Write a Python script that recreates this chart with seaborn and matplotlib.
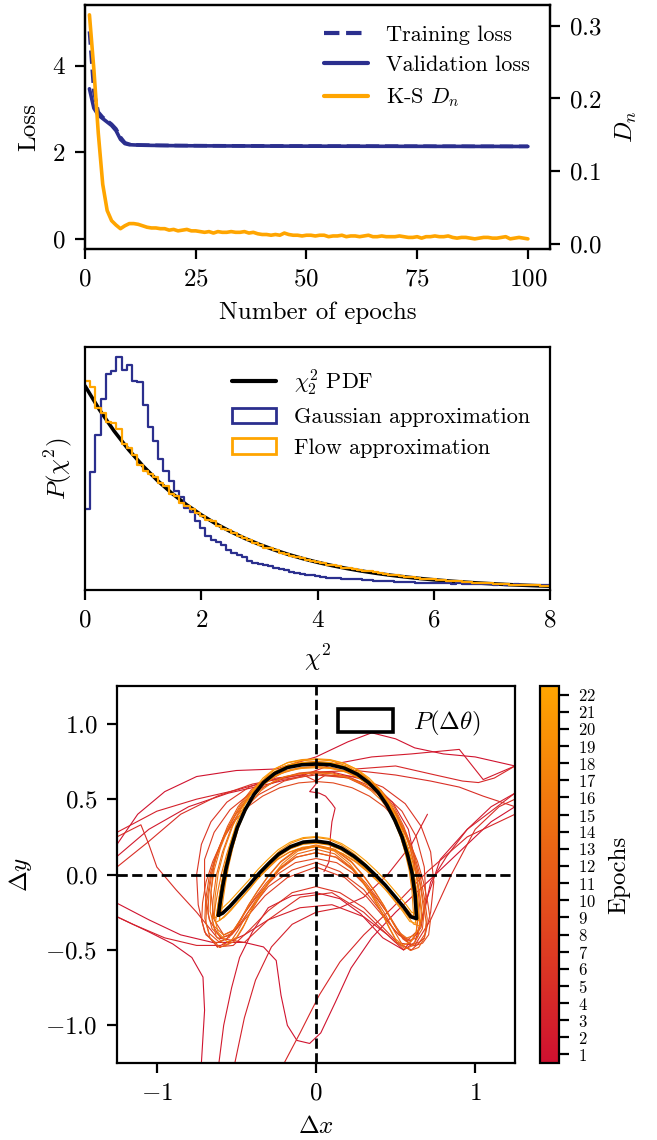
import numpy as np
import pandas as pd
import matplotlib
matplotlib.use("Agg")
import matplotlib.pyplot as plt
import seaborn as sns
from matplotlib.colors import LinearSegmentedColormap, Normalize
from matplotlib.cm import ScalarMappable
from matplotlib.lines import Line2D
from matplotlib.patches import Patch

# ---------------- data: panel 1 (training history) ----------------
EPOCHS = list(range(1, 101))
TRAIN_LOSS = [4.80, 3.40, 2.93, 2.81, 2.73, 2.65, 2.54, 2.35, 2.22, 2.185,
              2.174, 2.170, 2.167, 2.165, 2.163, 2.161, 2.160, 2.159, 2.158, 2.157,
              2.156, 2.155, 2.155, 2.154, 2.153, 2.153, 2.152, 2.152, 2.151, 2.151,
              2.150, 2.150, 2.150, 2.149, 2.149, 2.148, 2.148, 2.148, 2.147, 2.147,
              2.147, 2.146, 2.146, 2.146, 2.146, 2.145, 2.145, 2.145, 2.145, 2.144,
              2.144, 2.144, 2.144, 2.144, 2.143, 2.143, 2.143, 2.143, 2.143, 2.142,
              2.142, 2.142, 2.142, 2.142, 2.142, 2.141, 2.141, 2.141, 2.141, 2.141,
              2.141, 2.140, 2.140, 2.140, 2.140, 2.140, 2.140, 2.140, 2.139, 2.139,
              2.139, 2.139, 2.139, 2.139, 2.139, 2.139, 2.138, 2.138, 2.138, 2.138,
              2.138, 2.138, 2.138, 2.138, 2.138, 2.137, 2.137, 2.137, 2.137, 2.137]
VAL_LOSS = [3.47, 3.02, 2.86, 2.78, 2.70, 2.62, 2.50, 2.30, 2.20, 2.175,
            2.170, 2.166, 2.163, 2.161, 2.159, 2.158, 2.156, 2.155, 2.154, 2.153,
            2.152, 2.152, 2.151, 2.150, 2.150, 2.149, 2.149, 2.148, 2.148, 2.147,
            2.147, 2.146, 2.146, 2.146, 2.145, 2.145, 2.145, 2.144, 2.144, 2.144,
            2.143, 2.143, 2.143, 2.143, 2.142, 2.142, 2.142, 2.142, 2.141, 2.141,
            2.141, 2.141, 2.141, 2.140, 2.140, 2.140, 2.140, 2.140, 2.139, 2.139,
            2.139, 2.139, 2.139, 2.139, 2.138, 2.138, 2.138, 2.138, 2.138, 2.138,
            2.137, 2.137, 2.137, 2.137, 2.137, 2.137, 2.137, 2.136, 2.136, 2.136,
            2.136, 2.136, 2.136, 2.136, 2.136, 2.135, 2.135, 2.135, 2.135, 2.135,
            2.135, 2.135, 2.135, 2.134, 2.134, 2.134, 2.134, 2.134, 2.134, 2.134]
KS_DN = [0.315, 0.240, 0.152, 0.082, 0.046, 0.032, 0.026, 0.021, 0.025, 0.028,
         0.028, 0.027, 0.025, 0.023, 0.022, 0.022, 0.021, 0.021, 0.019, 0.020,
         0.018, 0.019, 0.020, 0.018, 0.018, 0.017, 0.016, 0.017, 0.015, 0.017,
         0.016, 0.016, 0.017, 0.016, 0.016, 0.017, 0.015, 0.016, 0.014, 0.013,
         0.013, 0.012, 0.013, 0.012, 0.015, 0.013, 0.012, 0.012, 0.011, 0.012,
         0.012, 0.011, 0.012, 0.012, 0.010, 0.011, 0.011, 0.012, 0.010, 0.011,
         0.011, 0.010, 0.011, 0.012, 0.010, 0.010, 0.011, 0.010, 0.010, 0.010,
         0.011, 0.010, 0.009, 0.009, 0.010, 0.008, 0.010, 0.010, 0.011, 0.010,
         0.010, 0.011, 0.009, 0.008, 0.009, 0.009, 0.008, 0.007, 0.008, 0.009,
         0.009, 0.008, 0.008, 0.009, 0.010, 0.007, 0.008, 0.009, 0.008, 0.007]

# ---------------- data: panel 2 (chi^2 histograms) ----------------
BIN_EDGES = [round(0.09 * i, 2) for i in range(91)]
GAUSS_HIST = [0.198, 0.288, 0.380, 0.468, 0.530, 0.536, 0.570, 0.540, 0.552, 0.512,
              0.510, 0.452, 0.400, 0.365, 0.322, 0.292, 0.268, 0.243, 0.227, 0.202,
              0.190, 0.170, 0.153, 0.133, 0.122, 0.117, 0.109, 0.098, 0.090, 0.086,
              0.080, 0.072, 0.067, 0.064, 0.061, 0.058, 0.055, 0.052, 0.048, 0.045,
              0.042, 0.040, 0.037, 0.036, 0.033, 0.032, 0.030, 0.030, 0.029, 0.028,
              0.027, 0.026, 0.026, 0.025, 0.024, 0.023, 0.022, 0.022, 0.021, 0.020,
              0.020, 0.019, 0.019, 0.018, 0.018, 0.018, 0.017, 0.018, 0.016, 0.016,
              0.015, 0.016, 0.015, 0.015, 0.014, 0.015, 0.014, 0.014, 0.013, 0.014,
              0.013, 0.013, 0.014, 0.013, 0.013, 0.012, 0.013, 0.012, 0.012, 0.012]
FLOW_HIST = [0.511, 0.497, 0.446, 0.433, 0.412, 0.409, 0.395, 0.358, 0.349, 0.330,
             0.306, 0.292, 0.283, 0.277, 0.262, 0.255, 0.236, 0.229, 0.214, 0.205,
             0.199, 0.188, 0.180, 0.172, 0.168, 0.156, 0.150, 0.147, 0.139, 0.131,
             0.127, 0.122, 0.114, 0.111, 0.104, 0.102, 0.097, 0.091, 0.089, 0.083,
             0.081, 0.079, 0.073, 0.071, 0.069, 0.066, 0.062, 0.061, 0.058, 0.055,
             0.054, 0.051, 0.049, 0.047, 0.046, 0.043, 0.041, 0.039, 0.037, 0.036,
             0.034, 0.032, 0.031, 0.030, 0.028, 0.027, 0.026, 0.025, 0.024, 0.023,
             0.022, 0.021, 0.020, 0.019, 0.018, 0.017, 0.016, 0.016, 0.015, 0.014,
             0.014, 0.013, 0.013, 0.012, 0.012, 0.011, 0.011, 0.010, 0.010, 0.009]
PDF_X = [0.0, 0.25, 0.5, 0.75, 1.0, 1.25, 1.5, 1.75, 2.0, 2.25, 2.5, 2.75, 3.0,
         3.25, 3.5, 3.75, 4.0, 4.25, 4.5, 4.75, 5.0, 5.25, 5.5, 5.75, 6.0, 6.25,
         6.5, 6.75, 7.0, 7.25, 7.5, 7.75, 8.0]
PDF_Y = [0.5, 0.4412, 0.3894, 0.3436, 0.3033, 0.2676, 0.2362, 0.2084, 0.1839,
         0.1623, 0.1433, 0.1264, 0.1116, 0.0985, 0.0869, 0.0767, 0.0677, 0.0597,
         0.0527, 0.0465, 0.0410, 0.0362, 0.0320, 0.0282, 0.0249, 0.0220, 0.0194,
         0.0171, 0.0151, 0.0133, 0.0118, 0.0104, 0.0092]

# ---------------- data: panel 3 (contours) ----------------
TRUE_X = [-0.613, -0.600, -0.585, -0.565, -0.535, -0.495, -0.445, -0.390, -0.330, -0.260,
          -0.180, -0.090, 0.000, 0.090, 0.180, 0.260, 0.330, 0.390, 0.445, 0.495,
          0.540, 0.575, 0.603, 0.622, 0.632, 0.595, 0.550, 0.495, 0.435, 0.375,
          0.310, 0.240, 0.160, 0.080, 0.000, -0.080, -0.160, -0.235, -0.300, -0.360,
          -0.420, -0.480, -0.540, -0.585, -0.613]
TRUE_Y = [-0.270, -0.170, -0.070, 0.040, 0.170, 0.310, 0.430, 0.530, 0.610, 0.670,
          0.710, 0.728, 0.733, 0.728, 0.705, 0.665, 0.610, 0.545, 0.460, 0.360,
          0.250, 0.130, 0.010, -0.130, -0.292, -0.280, -0.215, -0.145, -0.070, -0.005,
          0.060, 0.120, 0.175, 0.210, 0.222, 0.215, 0.185, 0.135, 0.070, 0.005,
          -0.070, -0.140, -0.210, -0.255, -0.270]
ROUND_X = [-0.58, -0.64, -0.665, -0.66, -0.64, -0.60, -0.545, -0.48, -0.40, -0.31,
           -0.21, -0.10, 0.0, 0.10, 0.21, 0.31, 0.40, 0.48, 0.54, 0.59,
           0.625, 0.65, 0.665, 0.655, 0.62, 0.57, 0.52, 0.47, 0.42, 0.36,
           0.30, 0.22, 0.12, 0.0, -0.12, -0.22, -0.30, -0.36, -0.42, -0.47,
           -0.52, -0.58]
ROUND_Y = [-0.44, -0.38, -0.28, -0.15, 0.0, 0.15, 0.30, 0.43, 0.54, 0.62,
           0.68, 0.715, 0.725, 0.715, 0.68, 0.62, 0.54, 0.43, 0.30, 0.15,
           0.0, -0.15, -0.28, -0.38, -0.44, -0.46, -0.42, -0.33, -0.23, -0.13,
           -0.04, 0.06, 0.14, 0.17, 0.14, 0.06, -0.04, -0.13, -0.23, -0.33,
           -0.41, -0.44]
# late epochs: which base outline (0 = sharp, 1 = round), its x/y scale and y shift
LATE_EPOCHS = [9, 10, 11, 12, 13, 14, 15, 16, 17, 18, 19, 20, 21, 22]
LATE_SHAPE = [1, 1, 1, 1, 1, 1, 0, 1, 0, 0, 0, 0, 0, 0]
LATE_SX = [1.08, 1.05, 1.02, 1.04, 0.98, 1.00, 1.05, 0.96, 1.03, 0.97, 1.02, 0.99, 1.01, 1.00]
LATE_SY = [0.92, 0.97, 1.00, 1.03, 1.05, 0.98, 0.96, 1.04, 1.03, 1.02, 0.98, 1.04, 1.00, 1.02]
LATE_DY = [-0.05, -0.02, 0.02, -0.03, -0.01, 0.03, -0.03, 0.01, -0.04, 0.02, -0.01, -0.02, 0.03, 0.00]

# early epochs: wild contour pieces (epoch, x list, y list)
EARLY_EPOCH = [1, 1, 1, 2, 2, 2, 3, 3, 4, 5, 6, 7, 8, 3, 4, 5]
EARLY_X = [
    [-1.25, -1.12, -0.95, -0.75, -0.50, -0.25, 0.0, 0.20, 0.35, 0.50, 0.62, 0.80, 1.00, 1.25],
    [-1.25, -1.05, -0.85, -0.65, -0.45, -0.33, -0.25, -0.22, -0.18, -0.12, -0.04, 0.03, 0.12, 0.22, 0.35, 0.50, 0.70, 0.90, 1.10, 1.25],
    [-1.25, -1.05, -0.90, -0.78, -0.71, -0.70, -0.72],
    [-1.25, -1.05, -0.80, -0.55, -0.30, -0.10, 0.10, 0.35, 0.60, 0.90, 1.05, 1.25],
    [-0.61, -0.58, -0.53, -0.48, -0.40, -0.30, -0.15, 0.0, 0.15, 0.28, 0.42, 0.55, 0.64, 0.70, 0.78, 0.95, 1.10, 1.25],
    [0.0, -0.04, 0.02, 0.06, 0.10, 0.12, 0.10, 0.09, 0.09, 0.08, 0.05],
    [1.25, 1.10, 0.95, 0.82, 0.72, 0.68, 0.62, 0.55, 0.45, 0.30, 0.10, -0.10, -0.30, -0.45, -0.60, -0.75, -0.95, -1.15, -1.25],
    [-0.51, -0.45, -0.38, -0.28, -0.15, 0.0, 0.15, 0.30, 0.45, 0.60, 0.70],
    [-0.20, -0.10, 0.02, 0.15, 0.30, 0.48, 0.70, 0.95, 1.25],
    [-1.25, -1.10, -1.05, -1.00, -0.88, -0.75, -0.62, -0.45, -0.30, -0.10, 0.10, 0.30, 0.50, 0.62, 0.72, 0.85, 1.00, 1.15, 1.25],
    [-0.62, -0.70, -0.74, -0.75, -0.72, -0.66, -0.56, -0.42, -0.25, -0.08, 0.0, 0.06, 0.25, 0.42, 0.56, 0.66, 0.72, 0.74, 0.72, 0.68, 0.60, 0.52, 0.42, 0.30, 0.15, 0.0, -0.15, -0.30, -0.42, -0.52, -0.62],
    [-0.60, -0.67, -0.70, -0.70, -0.64, -0.54, -0.40, -0.22, 0.0, 0.22, 0.40, 0.54, 0.63, 0.68, 0.69, 0.66, 0.60, 0.52, 0.44, 0.32, 0.18, 0.0, -0.18, -0.32, -0.45, -0.53, -0.60],
    [-0.58, -0.64, -0.66, -0.64, -0.58, -0.49, -0.36, -0.20, 0.0, 0.20, 0.38, 0.50, 0.58, 0.63, 0.65, 0.63, 0.57, 0.50, 0.42, 0.30, 0.15, 0.0, -0.15, -0.30, -0.42, -0.50, -0.58],
    [-1.25, -1.00, -0.75, -0.50, -0.30, -0.10, 0.10, 0.30, 0.48, 0.58, 0.62, 0.60],
    [0.25, 0.50, 0.75, 0.92, 1.02, 1.12, 1.25],
    [-1.25, -1.05, -0.85, -0.62, -0.40, -0.20, 0.0, 0.25, 0.50, 0.72, 0.90, 1.05, 1.25],
]
EARLY_Y = [
    [0.20, 0.40, 0.55, 0.65, 0.69, 0.70, 0.78, 0.88, 0.94, 0.90, 0.84, 0.80, 0.78, 0.72],
    [-0.19, -0.30, -0.40, -0.45, -0.45, -0.48, -0.57, -0.80, -1.00, -1.10, -1.12, -1.05, -0.85, -0.62, -0.42, -0.25, -0.05, 0.15, 0.35, 0.45],
    [-0.28, -0.38, -0.46, -0.55, -0.68, -0.90, -1.25],
    [0.12, 0.30, 0.45, 0.54, 0.60, 0.65, 0.73, 0.78, 0.80, 0.83, 0.63, 0.72],
    [-1.25, -1.00, -0.75, -0.55, -0.38, -0.22, -0.14, -0.12, -0.16, -0.26, -0.42, -0.50, -0.38, -0.15, 0.10, 0.30, 0.45, 0.54],
    [0.60, 0.55, 0.54, 0.52, 0.47, 0.44, 0.35, 0.25, 0.15, 0.08, 0.02],
    [0.54, 0.42, 0.30, 0.12, -0.05, -0.25, -0.45, -0.50, -0.40, -0.28, -0.20, -0.22, -0.30, -0.40, -0.47, -0.47, -0.42, -0.33, -0.28],
    [-1.25, -0.95, -0.70, -0.48, -0.33, -0.25, -0.22, -0.15, 0.0, 0.20, 0.40],
    [-1.25, -1.05, -0.80, -0.58, -0.40, -0.22, 0.02, 0.25, 0.40],
    [0.25, 0.33, 0.20, 0.05, -0.10, -0.25, -0.42, -0.45, -0.30, -0.15, -0.12, -0.25, -0.45, -0.47, -0.30, 0.0, 0.30, 0.45, 0.50],
    [-0.48, -0.38, -0.20, 0.0, 0.20, 0.35, 0.48, 0.58, 0.64, 0.66, 0.62, 0.66, 0.65, 0.58, 0.47, 0.32, 0.15, -0.05, -0.25, -0.42, -0.50, -0.46, -0.35, -0.22, -0.12, -0.08, -0.12, -0.24, -0.37, -0.47, -0.48],
    [-0.42, -0.30, -0.10, 0.10, 0.28, 0.43, 0.55, 0.63, 0.66, 0.64, 0.56, 0.42, 0.25, 0.05, -0.15, -0.35, -0.44, -0.40, -0.30, -0.15, -0.02, 0.05, -0.02, -0.14, -0.30, -0.40, -0.42],
    [-0.40, -0.30, -0.12, 0.08, 0.25, 0.40, 0.53, 0.62, 0.67, 0.64, 0.55, 0.40, 0.22, 0.02, -0.20, -0.38, -0.44, -0.38, -0.26, -0.10, 0.02, 0.08, 0.03, -0.08, -0.24, -0.36, -0.40],
    [0.28, 0.42, 0.50, 0.56, 0.62, 0.67, 0.68, 0.63, 0.48, 0.30, 0.10, -0.10],
    [0.70, 0.72, 0.66, 0.62, 0.61, 0.64, 0.72],
    [0.05, 0.22, 0.40, 0.52, 0.60, 0.64, 0.68, 0.69, 0.66, 0.62, 0.58, 0.52, 0.45],
]

NAVY = "#2b2f8e"
ORANGE = "#ffa500"

# ---------------- style ----------------
sns.set_theme(style="ticks")
plt.rcParams.update({
    "font.family": "serif",
    "font.serif": ["cmr10"],
    "mathtext.fontset": "cm",
    "axes.formatter.use_mathtext": True,
    "axes.unicode_minus": True,
    "font.size": 9,
    "axes.labelsize": 9,
    "xtick.labelsize": 9,
    "ytick.labelsize": 9,
    "legend.fontsize": 8,
    "axes.linewidth": 0.8,
    "axes.edgecolor": "black",
    "axes.labelcolor": "black",
    "text.color": "black",
    "xtick.color": "black",
    "ytick.color": "black",
    "xtick.major.size": 3.5,
    "ytick.major.size": 3.5,
    "xtick.major.width": 0.8,
    "ytick.major.width": 0.8,
    "xtick.direction": "out",
    "ytick.direction": "out",
})

fig = plt.figure(figsize=(3.285, 5.7), dpi=200)

# ---------------- panel 1 ----------------
ax1 = fig.add_axes([0.1294, 0.7816, 0.7078, 0.2140])
hist_df = pd.DataFrame({"epoch": EPOCHS, "train": TRAIN_LOSS, "val": VAL_LOSS, "ks": KS_DN})
sns.lineplot(data=hist_df, x="epoch", y="train", ax=ax1, color=NAVY, lw=1.3,
             linestyle="--", legend=False)
sns.lineplot(data=hist_df, x="epoch", y="val", ax=ax1, color=NAVY, lw=1.3, legend=False)
ax1.set_xlim(0, 105)
ax1.set_ylim(-0.24, 5.41)
ax1.set_xticks([0, 25, 50, 75, 100])
ax1.set_yticks([0, 2, 4])
ax1.set_xlabel("Number of epochs")
ax1.set_ylabel("Loss")
ax1b = ax1.twinx()
sns.lineplot(data=hist_df, x="epoch", y="ks", ax=ax1b, color=ORANGE, lw=1.3, legend=False)
ax1b.set_ylim(-0.0069, 0.3285)
ax1b.set_yticks([0.0, 0.1, 0.2, 0.3])
ax1b.set_ylabel("$D_n$")
for s in ax1b.spines.values():
    s.set_linewidth(0.8)
h1 = [Line2D([], [], color=NAVY, lw=1.5, ls="--"),
      Line2D([], [], color=NAVY, lw=1.5),
      Line2D([], [], color=ORANGE, lw=1.5)]
ax1b.legend(h1, ["Training loss", "Validation loss", "K-S $D_n$"], loc="upper right",
            frameon=False)

# ---------------- panel 2 ----------------
ax2 = fig.add_axes([0.1294, 0.4825, 0.7078, 0.2132])
centers = [(BIN_EDGES[i] + BIN_EDGES[i + 1]) / 2 for i in range(len(BIN_EDGES) - 1)]
sns.lineplot(x=PDF_X, y=PDF_Y, ax=ax2, color="black", lw=1.3)
sns.histplot(x=centers, weights=GAUSS_HIST, bins=BIN_EDGES, element="step", fill=False,
             color=NAVY, lw=0.8, ax=ax2)
sns.histplot(x=centers, weights=FLOW_HIST, bins=BIN_EDGES, element="step", fill=False,
             color=ORANGE, lw=0.8, ax=ax2)
ax2.set_xlim(0, 8)
ax2.set_ylim(0, 0.5955)
ax2.set_yticks([])
ax2.set_xticks([0, 2, 4, 6, 8])
ax2.set_xlabel(r"$\chi^2$")
ax2.set_ylabel(r"$P(\chi^2)$")
h2 = [Line2D([], [], color="black", lw=1.5),
      Patch(facecolor="none", edgecolor=NAVY, lw=1.0),
      Patch(facecolor="none", edgecolor=ORANGE, lw=1.0)]
ax2.legend(h2, [r"$\chi^2_2$ PDF", "Gaussian approximation", "Flow approximation"],
           loc="upper right", frameon=False)

# ---------------- panel 3 ----------------
ax3 = fig.add_axes([0.1781, 0.0675, 0.6058, 0.3307])
cax = fig.add_axes([0.8219, 0.0675, 0.0289, 0.3307])
cmap = LinearSegmentedColormap.from_list("epochs", ["#cf1030", "#ffa500"])
norm = Normalize(0.5, 22.5)

for ep, xs, ys in zip(EARLY_EPOCH, EARLY_X, EARLY_Y):
    ax3.plot(xs, ys, color=cmap(norm(ep)), lw=0.4)
bases = [(TRUE_X, TRUE_Y), (ROUND_X, ROUND_Y)]
for ep, shp, sx, sy, dy in zip(LATE_EPOCHS, LATE_SHAPE, LATE_SX, LATE_SY, LATE_DY):
    bx, by = bases[shp]
    ax3.plot(np.array(bx) * sx, np.array(by) * sy + dy, color=cmap(norm(ep)), lw=0.4)
ax3.plot(TRUE_X, TRUE_Y, color="black", lw=1.3)
ax3.axhline(0, color="black", ls="--", lw=1.0)
ax3.axvline(0, color="black", ls="--", lw=1.0)
ax3.set_xlim(-1.25, 1.25)
ax3.set_ylim(-1.25, 1.25)
ax3.set_xticks([-1, 0, 1])
ax3.set_yticks([-1.0, -0.5, 0.0, 0.5, 1.0])
ax3.set_xlabel(r"$\Delta x$")
ax3.set_ylabel(r"$\Delta y$")
ax3.legend([Patch(facecolor="white", edgecolor="black", lw=1.3)], [r"$P(\Delta\theta)$"],
           loc="upper right", frameon=False, fontsize=9, handlelength=2.2,
           handleheight=1.0, bbox_to_anchor=(0.97, 1.0))

sm = ScalarMappable(norm=norm, cmap=cmap)
cb = fig.colorbar(sm, cax=cax, ticks=list(range(1, 23)))
cb.set_label("Epochs")
cb.ax.tick_params(labelsize=6, length=3.5, width=0.8)
cb.outline.set_linewidth(0.8)

fig.savefig("out.png", dpi=200)
